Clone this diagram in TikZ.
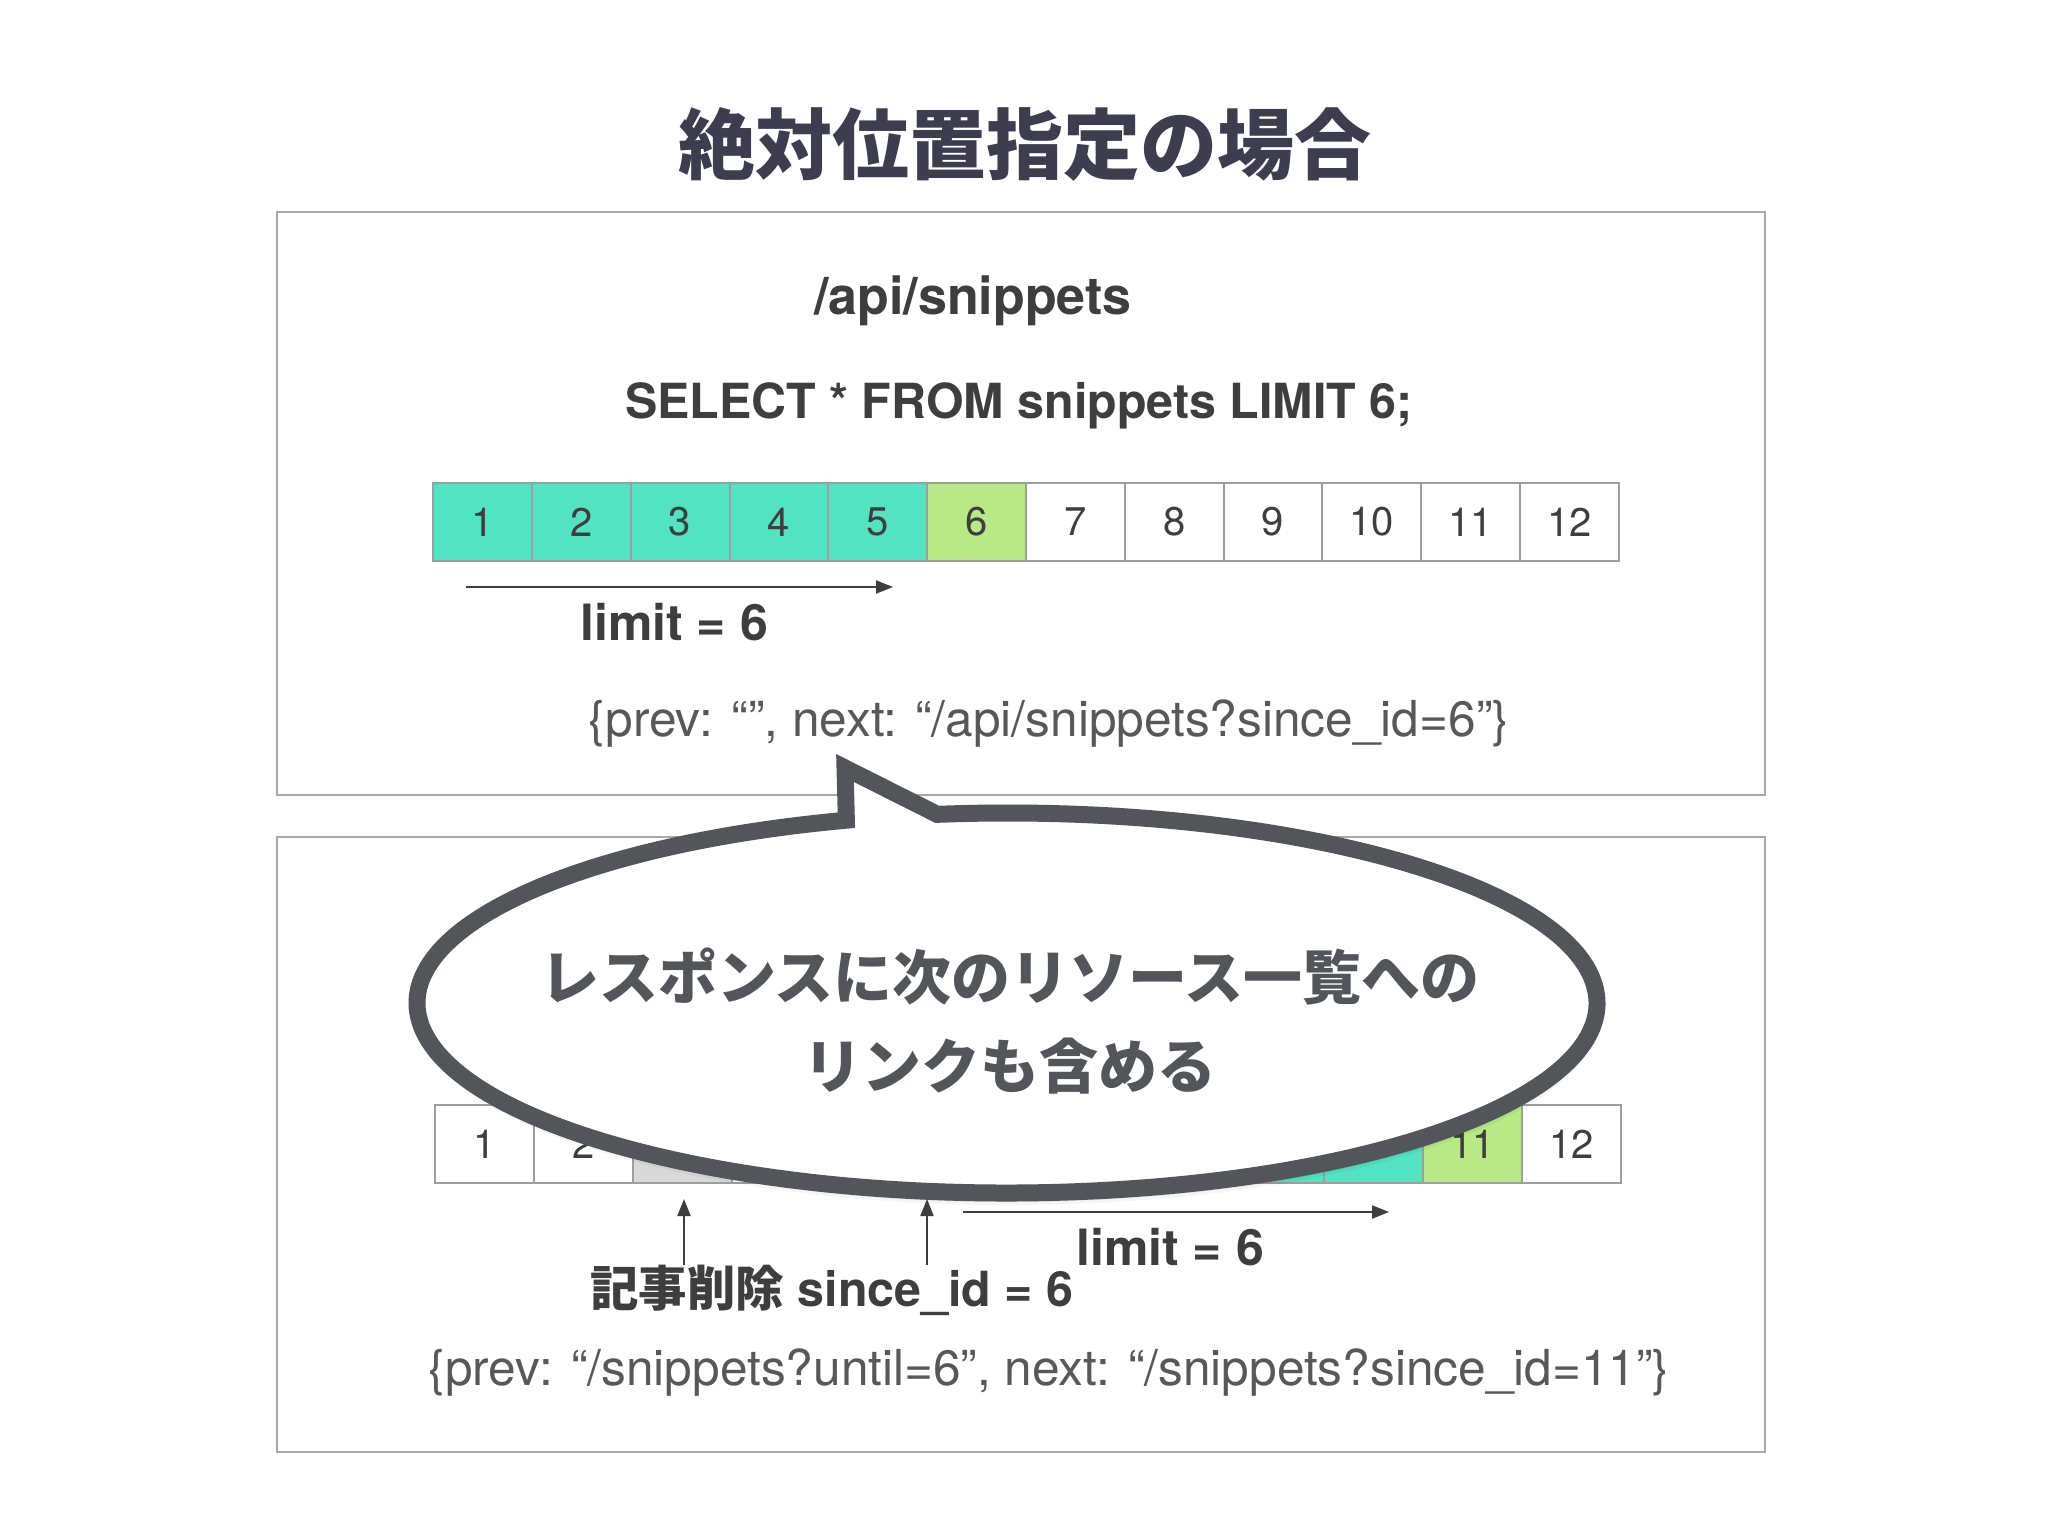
\documentclass[tikz,border=0pt]{standalone}
\usepackage{fontspec}
\setmainfont{TeX Gyre Heros}
\newfontfamily\cjk{Noto Sans CJK JP}
\usetikzlibrary{arrows.meta,calc}
\definecolor{tealc}{HTML}{52E3C2}
\definecolor{greenc}{HTML}{B8E986}
\definecolor{grayc}{HTML}{D9D9D9}
\definecolor{cellline}{HTML}{9E9E9E}
\definecolor{panelline}{HTML}{A8A8A8}
\definecolor{titlec}{HTML}{3C3D4F}
\definecolor{textc}{HTML}{3E3E3E}
\definecolor{lightc}{HTML}{585858}
\definecolor{bubblec}{HTML}{52565B}
\def\bubblepath{(1007,-1003) ++(96.8:590 and 190) arc[start angle=96.8, end angle=-254.2, x radius=590, y radius=190] -- (845,-768) -- cycle}
\begin{document}
\begin{tikzpicture}[x=0.5pt,y=0.5pt,
  panel/.style={draw=panelline, line width=1pt},
  cell/.style={draw=cellline, line width=1pt, minimum width=49.415pt, minimum height=39pt, inner sep=0pt, anchor=north west, text=textc, font=\fontsize{20}{24}\selectfont},
  boldtxt/.style={text=textc, inner sep=0pt, font=\fontsize{24.2}{28}\selectfont\bfseries},
  jsontxt/.style={text=lightc, inner sep=0pt, font=\fontsize{24.8}{28}\selectfont},
  arr/.style={draw=textc, line width=1pt, -{Triangle[length=8.5pt,width=6.5pt]}}]
\useasboundingbox (0,0) rectangle (2048,-1536);
\fill[white] (0,0) rectangle (2048,-1536);
% title
\node[text=titlec, inner sep=0pt, font=\fontsize{38.5}{46}\selectfont\cjk\bfseries] (title) at (1025,-144) {絶対位置指定の場合};
% panels
\draw[panel] (277,-212) rectangle (1765,-795);
\draw[panel] (277,-837) rectangle (1765,-1452);
% top panel content
\node[boldtxt, font=\fontsize{26}{30}\selectfont\bfseries] (api) at (973,-301) {/api/snippets};
\node[boldtxt] (sql) at (1019,-406) {SELECT * FROM snippets LIMIT 6;};
\foreach \i/\c in {1/tealc,2/tealc,3/tealc,4/tealc,5/tealc,6/greenc,7/white,8/white,9/white,10/white,11/white,12/white}
  \node[cell, fill=\c] (t\i) at ({432+(\i-1)*98.83},-482) {\i};
\coordinate (ta1) at (466,-587);
\coordinate (ta2) at (893,-587);
\draw[arr] (ta1) -- (ta2);
\node[boldtxt, font=\fontsize{25}{30}\selectfont\bfseries] (lim1) at (674,-622) {limit = 6};
\node[jsontxt] (json1) at (1049,-724) {\{prev: “”, next: “/api/snippets?since\_id=6”\}};
% bottom panel content
\foreach \i/\c/\l in {1/white/1,2/white/2,3/grayc/,4/white/,5/white/,6/tealc/,7/tealc/,8/tealc/,9/tealc/,10/tealc/10,11/greenc/11,12/white/12}
  \node[cell, fill=\c] (b\i) at ({434+(\i-1)*98.83},-1104) {\l};
\coordinate (u1a) at (684,-1265);
\coordinate (u1b) at (684,-1199);
\coordinate (u2a) at (927,-1265);
\coordinate (u2b) at (927,-1199);
\coordinate (ba1) at (963,-1212);
\coordinate (ba2) at (1389,-1212);
\draw[arr] (u1a) -- (u1b);
\draw[arr] (u2a) -- (u2b);
\draw[arr] (ba1) -- (ba2);
\node[boldtxt, font=\fontsize{25}{30}\selectfont\bfseries] (lim2) at (1170,-1247) {limit = 6};
\node[boldtxt] (del) at (832,-1290) {{\cjk\bfseries 記事削除} since\_id = 6};
\node[jsontxt] (json2) at (1049,-1373) {\{prev: “/snippets?until=6”, next: “/snippets?since\_id=11”\}};
% bubble shadow
\foreach \dy/\op in {3/0.10,6/0.08,9/0.06,12/0.04}
  {\begin{scope}[shift={(2,-\dy)}]
   \fill[black, opacity=\op] \bubblepath;
   \end{scope}}
% bubble
\draw[draw=bubblec, fill=white, line width=8.5pt, line join=miter, miter limit=12] \bubblepath;
\node[text=bubblec, align=center, inner sep=0pt, font=\fontsize{29.5}{44.5}\selectfont\cjk\bfseries] (msg) at (1010,-1021) {レスポンスに次のリソース一覧への\\リンクも含める};
\end{tikzpicture}
\end{document}
